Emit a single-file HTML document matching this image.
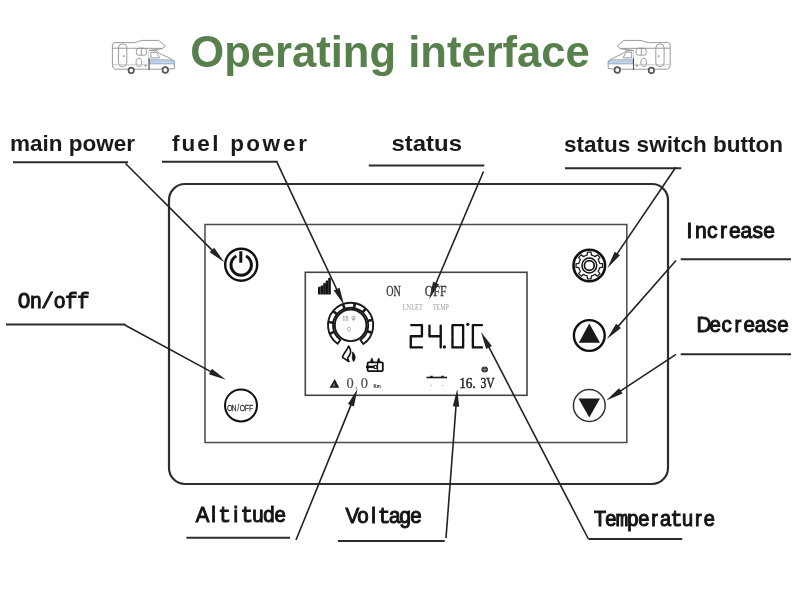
<!DOCTYPE html>
<html><head><meta charset="utf-8">
<style>
html,body{margin:0;padding:0;background:#fff;}
body{width:800px;height:601px;overflow:hidden;position:relative;}
svg{position:absolute;left:0;top:0;will-change:transform;}
.t{font-family:"Liberation Sans",sans-serif;font-weight:bold;fill:#1a1a1a;}
</style></head><body>
<svg width="800" height="601" viewBox="0 0 800 601">
<text class="t" x="190.3" y="67.2" font-size="43.8" style="fill:#58804c" textLength="399.5" lengthAdjust="spacingAndGlyphs">Operating interface</text>
<rect x="169" y="184" width="499" height="300" rx="16" ry="16" fill="none" stroke="#2e2e2e" stroke-width="2.2"/>
<rect x="205" y="224.5" width="421.8" height="218" fill="none" stroke="#4a4a4a" stroke-width="1.5"/>
<rect x="305.3" y="272.3" width="221.7" height="123" fill="none" stroke="#444" stroke-width="1.6"/>
<text class="t" x="10" y="151.4" font-size="22.5" textLength="125" lengthAdjust="spacingAndGlyphs">main power</text>
<text class="t" x="175.7 188.3 203.4 215.5 237.2 253 271.3 289.2 302.6" y="150.6" font-size="22.5" text-anchor="middle">fuelpower</text>
<text class="t" x="391.5" y="151.3" font-size="22.5" textLength="70.5" lengthAdjust="spacingAndGlyphs">status</text>
<text class="t" x="564" y="151.5" font-size="22.5" textLength="219" lengthAdjust="spacingAndGlyphs">status switch button</text>
<line x1="13.00" y1="162.30" x2="128.00" y2="162.30" stroke="#2b2b2b" stroke-width="2"/>
<line x1="125.50" y1="163.50" x2="213.34" y2="251.34" stroke="#222" stroke-width="1.6"/>
<polygon points="224.30,262.30 209.66,252.19 214.19,247.66" fill="#222"/>
<line x1="162.00" y1="161.75" x2="277.80" y2="161.75" stroke="#2b2b2b" stroke-width="2"/>
<line x1="277.00" y1="162.30" x2="337.50" y2="290.97" stroke="#222" stroke-width="1.6"/>
<polygon points="344.10,305.00 333.76,290.53 339.55,287.80" fill="#222"/>
<line x1="368.80" y1="165.60" x2="484.30" y2="165.60" stroke="#2b2b2b" stroke-width="2"/>
<line x1="483.50" y1="171.50" x2="435.27" y2="284.94" stroke="#222" stroke-width="1.6"/>
<polygon points="429.20,299.20 433.10,281.84 438.99,284.35" fill="#222"/>
<line x1="565.00" y1="168.20" x2="681.20" y2="168.20" stroke="#2b2b2b" stroke-width="2"/>
<line x1="675.80" y1="167.30" x2="616.20" y2="255.17" stroke="#222" stroke-width="1.6"/>
<polygon points="607.50,268.00 614.67,251.72 619.97,255.31" fill="#222"/>
<line x1="680.70" y1="259.20" x2="791.00" y2="259.20" stroke="#2b2b2b" stroke-width="2"/>
<line x1="676.00" y1="260.50" x2="617.23" y2="327.36" stroke="#222" stroke-width="1.6"/>
<polygon points="607.00,339.00 616.15,323.74 620.96,327.97" fill="#222"/>
<line x1="680.70" y1="354.20" x2="791.00" y2="354.20" stroke="#2b2b2b" stroke-width="2"/>
<line x1="676.00" y1="354.30" x2="619.13" y2="391.94" stroke="#222" stroke-width="1.6"/>
<polygon points="606.20,400.50 619.03,388.17 622.56,393.51" fill="#222"/>
<line x1="6.00" y1="324.50" x2="125.50" y2="324.50" stroke="#2b2b2b" stroke-width="2"/>
<line x1="124.80" y1="325.00" x2="212.18" y2="372.41" stroke="#222" stroke-width="1.6"/>
<polygon points="225.80,379.80 208.89,374.27 211.94,368.64" fill="#222"/>
<line x1="186.50" y1="537.70" x2="290.00" y2="537.70" stroke="#2b2b2b" stroke-width="2"/>
<line x1="296.00" y1="540.00" x2="351.65" y2="403.36" stroke="#222" stroke-width="1.6"/>
<polygon points="357.50,389.00 353.86,406.41 347.94,404.00" fill="#222"/>
<line x1="337.90" y1="540.90" x2="444.70" y2="540.90" stroke="#2b2b2b" stroke-width="2"/>
<line x1="446.00" y1="538.00" x2="456.13" y2="404.46" stroke="#222" stroke-width="1.6"/>
<polygon points="457.30,389.00 459.17,406.69 452.79,406.21" fill="#222"/>
<line x1="588.40" y1="539.00" x2="682.20" y2="539.00" stroke="#2b2b2b" stroke-width="2"/>
<line x1="588.40" y1="539.00" x2="488.14" y2="345.66" stroke="#222" stroke-width="1.6"/>
<polygon points="481.00,331.90 491.90,345.96 486.22,348.91" fill="#222"/>
<text transform="scale(0.93,1)" y="308" text-anchor="middle" font-family="Liberation Sans" font-weight="normal" font-size="21.80" fill="#151515" stroke="#151515" stroke-width="1.05"><tspan x="25.81" font-family="Liberation Mono" font-size="22.67">O</tspan><tspan x="38.55">n</tspan><tspan x="51.29" font-family="Liberation Mono" font-size="22.67">/</tspan><tspan x="64.03">o</tspan><tspan x="76.77" font-family="Liberation Mono" font-size="22.67">f</tspan><tspan x="89.52" font-family="Liberation Mono" font-size="22.67">f</tspan></text>
<text transform="scale(0.93,1)" y="238.5" text-anchor="middle" font-family="Liberation Sans" font-weight="normal" font-size="22.67" fill="#151515" stroke="#151515" stroke-width="1.05"><tspan x="741.29">I</tspan><tspan x="753.55">n</tspan><tspan x="765.81">c</tspan><tspan x="778.06">r</tspan><tspan x="790.32">e</tspan><tspan x="802.58">a</tspan><tspan x="814.84">s</tspan><tspan x="827.10">e</tspan></text>
<text transform="scale(0.93,1)" y="331.7" text-anchor="middle" font-family="Liberation Sans" font-weight="normal" font-size="22.09" fill="#151515" stroke="#151515" stroke-width="1.05"><tspan x="756.99">D</tspan><tspan x="769.12">e</tspan><tspan x="781.26">c</tspan><tspan x="793.39">r</tspan><tspan x="805.53">e</tspan><tspan x="817.67">a</tspan><tspan x="829.80">s</tspan><tspan x="841.94">e</tspan></text>
<text transform="scale(0.93,1)" y="522" text-anchor="middle" font-family="Liberation Sans" font-weight="normal" font-size="21.95" fill="#151515" stroke="#151515" stroke-width="1.05"><tspan x="217.74">A</tspan><tspan x="229.66">l</tspan><tspan x="241.58" font-family="Liberation Mono" font-size="22.83">t</tspan><tspan x="253.50">i</tspan><tspan x="265.42" font-family="Liberation Mono" font-size="22.83">t</tspan><tspan x="277.34">u</tspan><tspan x="289.26">d</tspan><tspan x="301.18">e</tspan></text>
<text transform="scale(0.93,1)" y="522.7" text-anchor="middle" font-family="Liberation Sans" font-weight="normal" font-size="22.09" fill="#151515" stroke="#151515" stroke-width="1.05"><tspan x="378.82">V</tspan><tspan x="390.22">o</tspan><tspan x="401.61">l</tspan><tspan x="413.01" font-family="Liberation Mono" font-size="22.98">t</tspan><tspan x="424.41">a</tspan><tspan x="435.81">g</tspan><tspan x="447.20">e</tspan></text>
<text transform="scale(0.93,1)" y="525.8" text-anchor="middle" font-family="Liberation Sans" font-weight="normal" font-size="21.51" fill="#151515" stroke="#151515" stroke-width="1.05"><tspan x="645.16" font-family="Liberation Mono" font-size="22.37">T</tspan><tspan x="656.92">e</tspan><tspan x="668.69" font-family="Liberation Mono" font-size="22.37">m</tspan><tspan x="680.45">p</tspan><tspan x="692.22">e</tspan><tspan x="703.98">r</tspan><tspan x="715.74">a</tspan><tspan x="727.51" font-family="Liberation Mono" font-size="22.37">t</tspan><tspan x="739.27">u</tspan><tspan x="751.03">r</tspan><tspan x="762.80">e</tspan></text>
<circle cx="241.2" cy="264.7" r="16" fill="none" stroke="#111" stroke-width="2.4"/>
<path d="M236.41,255.99 A10.2,10.2 0 1 0 245.99,255.99" fill="none" stroke="#111" stroke-width="3"/>
<line x1="240.8" y1="251.3" x2="240.8" y2="262.7" stroke="#111" stroke-width="3"/>
<circle cx="241" cy="405.4" r="16" fill="none" stroke="#111" stroke-width="2"/>
<text transform="scale(0.8,1)" x="287.00 292.38 297.75 303.12 308.50 313.88" y="410.6" text-anchor="middle" font-family="Liberation Sans" font-size="8.7" fill="#333" stroke="#333" stroke-width="0.25">ON/OFF</text>
<circle cx="589.3" cy="265.5" r="15.8" fill="none" stroke="#111" stroke-width="2.6"/>
<path d="M587.10,255.13 L587.55,252.21 L591.05,252.21 L591.50,255.13 L593.36,255.71 L595.07,256.61 L597.46,254.87 L599.93,257.34 L598.19,259.73 L599.09,261.44 L599.67,263.30 L602.59,263.75 L602.59,267.25 L599.67,267.70 L599.09,269.56 L598.19,271.27 L599.93,273.66 L597.46,276.13 L595.07,274.39 L593.36,275.29 L591.50,275.87 L591.05,278.79 L587.55,278.79 L587.10,275.87 L585.24,275.29 L583.53,274.39 L581.14,276.13 L578.67,273.66 L580.41,271.27 L579.51,269.56 L578.93,267.70 L576.01,267.25 L576.01,263.75 L578.93,263.30 L579.51,261.44 L580.41,259.73 L578.67,257.34 L581.14,254.87 L583.53,256.61 L585.24,255.71Z" fill="none" stroke="#222" stroke-width="1.3" stroke-linejoin="round"/>
<circle cx="589.3" cy="265.5" r="7.4" fill="none" stroke="#111" stroke-width="1.5"/>
<circle cx="589.3" cy="265.5" r="4.9" fill="none" stroke="#111" stroke-width="1.7"/>
<circle cx="589.3" cy="335.5" r="15.4" fill="none" stroke="#111" stroke-width="2.4"/>
<polygon points="589.30,323.50 578.80,342.80 600.00,342.80" fill="#1a1a1a"/>
<circle cx="589.3" cy="405.5" r="15.9" fill="none" stroke="#333" stroke-width="1.5"/>
<polygon points="578.50,398.50 600.00,398.50 589.30,417.50" fill="#1a1a1a"/>
<rect x="318" y="286.8" width="2.65" height="7.80" rx="0.6" fill="#151515"/>
<rect x="320.6" y="285.4" width="2.65" height="9.20" rx="0.6" fill="#151515"/>
<rect x="323.2" y="283" width="2.65" height="11.60" rx="0.6" fill="#151515"/>
<rect x="325.7" y="280.4" width="2.65" height="14.20" rx="0.6" fill="#151515"/>
<rect x="328.2" y="277.8" width="2.65" height="16.80" rx="0.6" fill="#151515"/>
<text x="386.2" y="295.5" font-family="Liberation Serif" font-size="14.5" fill="#333" stroke="#333" stroke-width="0.3" textLength="14.5" lengthAdjust="spacingAndGlyphs">ON</text>
<text x="424.7" y="295.5" font-family="Liberation Serif" font-size="14.5" fill="#333" stroke="#333" stroke-width="0.3" textLength="21.8" lengthAdjust="spacingAndGlyphs">OFF</text>
<text x="402.7" y="309.7" font-family="Liberation Serif" font-size="7.4" fill="#999" textLength="20.1" lengthAdjust="spacingAndGlyphs">LNLET</text>
<text x="433" y="309.7" font-family="Liberation Serif" font-size="7.4" fill="#999" textLength="15.7" lengthAdjust="spacingAndGlyphs">TEMP</text>
<path d="M337.64,343.81 A22.6,22.6 0 1 1 363.24,344.04 L360.44,339.89 A17.6,17.6 0 1 0 340.51,339.72 Z" fill="none" stroke="#1a1a1a" stroke-width="1.9" stroke-linejoin="round"/>
<line x1="334.28" y1="331.89" x2="329.65" y2="333.77" stroke="#1a1a1a" stroke-width="2.6"/>
<line x1="333.19" y1="322.70" x2="328.25" y2="321.96" stroke="#1a1a1a" stroke-width="2.6"/>
<line x1="336.92" y1="314.22" x2="333.04" y2="311.08" stroke="#1a1a1a" stroke-width="2.6"/>
<line x1="344.58" y1="308.76" x2="342.87" y2="304.06" stroke="#1a1a1a" stroke-width="2.6"/>
<line x1="353.96" y1="308.02" x2="354.91" y2="303.12" stroke="#1a1a1a" stroke-width="2.6"/>
<line x1="362.49" y1="312.32" x2="365.87" y2="308.64" stroke="#1a1a1a" stroke-width="2.6"/>
<line x1="367.68" y1="321.04" x2="372.53" y2="319.83" stroke="#1a1a1a" stroke-width="2.6"/>
<line x1="367.19" y1="331.18" x2="371.90" y2="332.84" stroke="#1a1a1a" stroke-width="2.6"/>
<circle cx="350.6" cy="325.3" r="15.8" fill="none" stroke="#1a1a1a" stroke-width="1.9"/>
<g fill="none" stroke="#b0b0b0" stroke-width="0.9"><path d="M342.6,317 h2.4 M343.8,315.8 v4.6 M342.8,320.6 l2,-1 M345.6,316.4 h2.2 v4.8 M346.6,316.4 q0,3 -1.2,5"/><path d="M351.4,316.6 h4.4 M353.6,315.6 v5.6 M351.6,318.6 h4 M352,320 l1,-1 M355.2,320 l-1,-1"/></g>
<ellipse cx="348.9" cy="329.3" rx="1.5" ry="2.1" fill="none" stroke="#aaa" stroke-width="0.9"/>
<path d="M348.6,346 C347.5,349.5 345.5,351 344.2,353.5 C343.2,355 342.6,356.3 342.5,357.4 C344.6,358.8 347,360.3 348.9,361.5 C348.2,360 347.6,358.6 347.6,358 C348.8,356.5 350.4,355 350.6,352.4 C350.8,350 349.8,347.5 348.6,346 Z" fill="none" stroke="#111" stroke-width="1.6" stroke-linejoin="round"/>
<path d="M352.3,351.8 C354.6,353.5 355.6,356.5 355,358.8 C354.7,360 354.2,361 353.6,361.6 C352.8,360 352.2,358.8 352.2,357.5 C352.6,355.5 352.8,353.5 352.3,351.8 Z" fill="#111" stroke="#111" stroke-width="0.8"/>
<rect x="367.6" y="362.3" width="15.2" height="8.8" rx="1" fill="none" stroke="#111" stroke-width="1.8"/>
<path d="M370.4,362.4 Q371,358.6 371.9,358 Q372.8,358.6 373.3,362.4 Z M377.2,362.4 Q377.8,358.6 378.7,358 Q379.6,358.6 380.1,362.4 Z" fill="#111" stroke="#111" stroke-width="0.6"/>
<line x1="366" y1="366.9" x2="374" y2="366.9" stroke="#111" stroke-width="2.4"/>
<circle cx="375.5" cy="366.9" r="1.6" fill="none" stroke="#111" stroke-width="1.2"/>
<line x1="377.5" y1="362.5" x2="377.5" y2="371" stroke="#111" stroke-width="1.2"/>
<polygon points="334.75,379.10 329.50,387.75 339.25,387.75" fill="#1a1a1a"/>
<polygon points="334.20,382.50 332.20,386.30 335.50,386.30" fill="#777"/>
<text x="346.6" y="388.1" font-family="Liberation Serif" font-size="14.4" fill="#4a4a4a" stroke="#4a4a4a" stroke-width="0.2">0</text>
<text x="355" y="388" font-family="Liberation Serif" font-size="10" fill="#555">,</text>
<text x="360.8" y="388.1" font-family="Liberation Serif" font-size="14.4" fill="#4a4a4a" stroke="#4a4a4a" stroke-width="0.2">0</text>
<text x="373.6" y="387.8" font-family="Liberation Sans" font-weight="bold" font-size="5" fill="#222" textLength="7.2" lengthAdjust="spacingAndGlyphs">Km</text>
<line x1="426.5" y1="377.5" x2="447" y2="377.5" stroke="#1a1a1a" stroke-width="1.6"/>
<path d="M430.3,376.4 h2.4 M441.3,376.4 h2.4" stroke="#1a1a1a" stroke-width="1.2"/>
<path d="M430.4,385.5 h2 M431.4,384.5 v2 M441.5,385.5 h2" stroke="#ccc" stroke-width="0.9"/>
<text x="459.2" y="387.6" font-family="Liberation Serif" font-size="14.6" fill="#222" stroke="#222" stroke-width="0.45" textLength="16.6" lengthAdjust="spacingAndGlyphs">16.</text>
<text x="480.4" y="387.6" font-family="Liberation Serif" font-size="14.6" fill="#222" stroke="#222" stroke-width="0.45" textLength="14.3" lengthAdjust="spacingAndGlyphs">3V</text>
<ellipse cx="484.7" cy="369.5" rx="3.3" ry="3" fill="#333"/>
<path d="M484.7,367 v5 M482.5,369.5 h4.4" stroke="#999" stroke-width="0.7"/>
<path d="M411.27500000000003,325.075 H421.925 V336.25 H410.77500000000003 V347.425 H421.925" fill="none" stroke="#111" stroke-width="2.35" stroke-linejoin="round" stroke-linecap="round"/>
<path d="M429.475,325.675 V336.25 H440.72499999999997 M440.72499999999997,325.675 V347.425" fill="none" stroke="#111" stroke-width="2.35" stroke-linejoin="round" stroke-linecap="round"/>
<path d="M452.475,335.65 V325.075 H463.125 V335.65 M463.125,336.85 V347.425 H452.475 V336.85" fill="none" stroke="#111" stroke-width="2.35" stroke-linejoin="round" stroke-linecap="round"/>
<path d="M481.925,325.075 H472.875 V335.65 M472.875,336.85 V347.425 H481.925" fill="none" stroke="#111" stroke-width="2.35" stroke-linejoin="round" stroke-linecap="round"/>
<circle cx="444.4" cy="346.9" r="1.7" fill="#111"/>
<circle cx="467.8" cy="324.3" r="1.6" fill="#111"/>

<g fill="none" stroke="#8e8e8e" stroke-width="0.9" stroke-linejoin="round">
<path d="M115,42.6 L134.2,42.6 Q137,42.2 141.2,40.4 L158.7,40.4 L165.3,46.1 L162.2,48.7 L149.1,50.4 L149.1,69.2 L133.4,69.2 Q131.2,66.5 128.1,69.2 L115,69.2 Q112.4,68.5 112.4,65 L112.4,45 Q112.6,42.8 115,42.6 Z" fill="#fff"/>
<path d="M112.6,48.2 L162.2,48.4"/>
<path d="M149.1,50.4 L157,50.9 L159.6,53.5 L169.2,57.9 L174.3,60.9 L174.5,68.4 L169.2,69.2 Q165.3,66 161,69.2 L149.1,69.2" fill="#fff"/>
<rect x="118.5" y="43.9" width="8.3" height="22.7" rx="4"/>
<circle cx="123.8" cy="56.1" r="0.5" fill="#777"/>
<rect x="136.4" y="48.2" width="10.1" height="7" rx="2.4"/>
<line x1="141.3" y1="48.4" x2="141.3" y2="55"/>
<ellipse cx="138.9" cy="62.4" rx="2.8" ry="4.1"/>
<path d="M150.9,52.2 L156.8,52.2 L159.4,57.9 L150.9,57.9 Z"/>
<path d="M149.8,59.8 L170,59.8 L174.3,61.6 L174.3,63.9 L149.8,63.9 Z" fill="#c2d3e6" stroke="#8aa6c6" stroke-width="0.8"/>
<line x1="149.1" y1="58" x2="149.1" y2="70.1" stroke="#555" stroke-width="1.1"/>
<circle cx="131.2" cy="70.4" r="2.7" fill="#fff" stroke="#555" stroke-width="1.7"/>
<circle cx="165.3" cy="70" r="2.8" fill="#fff" stroke="#555" stroke-width="1.7"/>
<line x1="112.8" y1="64.8" x2="148.5" y2="64.8" stroke="#b5b5b5" stroke-width="0.8"/>
<circle cx="145.6" cy="65.7" r="0.6" fill="#555"/>
</g>

<g transform="translate(782.6,0) scale(-1,1)">
<g fill="none" stroke="#8e8e8e" stroke-width="0.9" stroke-linejoin="round">
<path d="M115,42.6 L134.2,42.6 Q137,42.2 141.2,40.4 L158.7,40.4 L165.3,46.1 L162.2,48.7 L149.1,50.4 L149.1,69.2 L133.4,69.2 Q131.2,66.5 128.1,69.2 L115,69.2 Q112.4,68.5 112.4,65 L112.4,45 Q112.6,42.8 115,42.6 Z" fill="#fff"/>
<path d="M112.6,48.2 L162.2,48.4"/>
<path d="M149.1,50.4 L157,50.9 L159.6,53.5 L169.2,57.9 L174.3,60.9 L174.5,68.4 L169.2,69.2 Q165.3,66 161,69.2 L149.1,69.2" fill="#fff"/>
<rect x="118.5" y="43.9" width="8.3" height="22.7" rx="4"/>
<circle cx="123.8" cy="56.1" r="0.5" fill="#777"/>
<rect x="136.4" y="48.2" width="10.1" height="7" rx="2.4"/>
<line x1="141.3" y1="48.4" x2="141.3" y2="55"/>
<ellipse cx="138.9" cy="62.4" rx="2.8" ry="4.1"/>
<path d="M150.9,52.2 L156.8,52.2 L159.4,57.9 L150.9,57.9 Z"/>
<path d="M149.8,59.8 L170,59.8 L174.3,61.6 L174.3,63.9 L149.8,63.9 Z" fill="#c2d3e6" stroke="#8aa6c6" stroke-width="0.8"/>
<line x1="149.1" y1="58" x2="149.1" y2="70.1" stroke="#555" stroke-width="1.1"/>
<circle cx="131.2" cy="70.4" r="2.7" fill="#fff" stroke="#555" stroke-width="1.7"/>
<circle cx="165.3" cy="70" r="2.8" fill="#fff" stroke="#555" stroke-width="1.7"/>
<line x1="112.8" y1="64.8" x2="148.5" y2="64.8" stroke="#b5b5b5" stroke-width="0.8"/>
<circle cx="145.6" cy="65.7" r="0.6" fill="#555"/>
</g>
</g>
</svg>
</body></html>
